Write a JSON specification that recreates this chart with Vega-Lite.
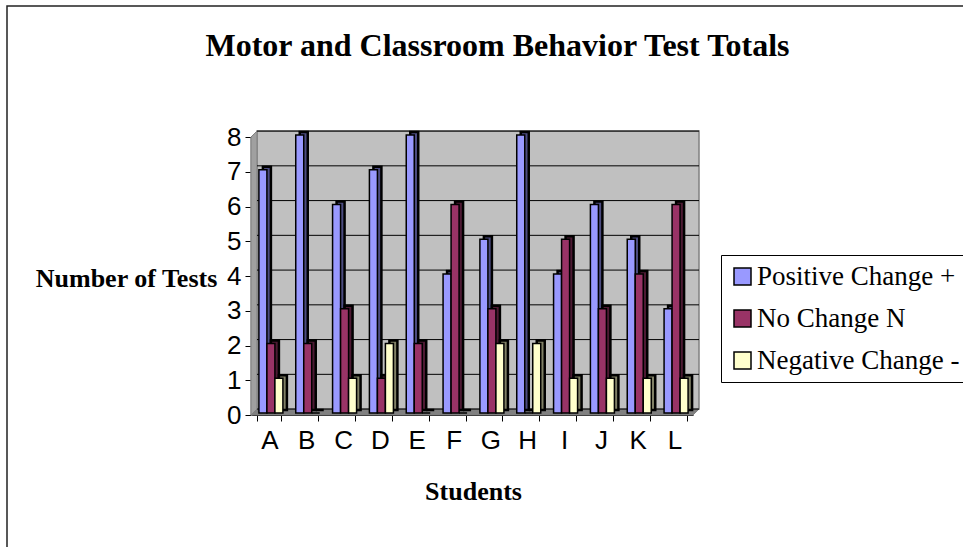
{
"$schema":"https://vega.github.io/schema/vega-lite/v6.json",
"width":957,"height":542,"autosize":"none","padding":{"left":7,"top":6,"right":-1,"bottom":-1},
"background":"white",
"view":{"stroke":"#222222","strokeWidth":1.5,"fill":null},
"title":{"text":"Motor and Classroom Behavior Test Totals","font":"Liberation Serif","fontWeight":"bold","fontSize":32,"color":"black","anchor":"middle","frame":"group","baseline":"alphabetic","dx":12,"dy":86},
"datasets":{
"bars":[
{"student":"A","series":"Positive Change +","tests":7},{"student":"A","series":"No Change N","tests":2},{"student":"A","series":"Negative Change -","tests":1},
{"student":"B","series":"Positive Change +","tests":8},{"student":"B","series":"No Change N","tests":2},{"student":"B","series":"Negative Change -","tests":0},
{"student":"C","series":"Positive Change +","tests":6},{"student":"C","series":"No Change N","tests":3},{"student":"C","series":"Negative Change -","tests":1},
{"student":"D","series":"Positive Change +","tests":7},{"student":"D","series":"No Change N","tests":1},{"student":"D","series":"Negative Change -","tests":2},
{"student":"E","series":"Positive Change +","tests":8},{"student":"E","series":"No Change N","tests":2},{"student":"E","series":"Negative Change -","tests":0},
{"student":"F","series":"Positive Change +","tests":4},{"student":"F","series":"No Change N","tests":6},{"student":"F","series":"Negative Change -","tests":0},
{"student":"G","series":"Positive Change +","tests":5},{"student":"G","series":"No Change N","tests":3},{"student":"G","series":"Negative Change -","tests":2},
{"student":"H","series":"Positive Change +","tests":8},{"student":"H","series":"No Change N","tests":0},{"student":"H","series":"Negative Change -","tests":2},
{"student":"I","series":"Positive Change +","tests":4},{"student":"I","series":"No Change N","tests":5},{"student":"I","series":"Negative Change -","tests":1},
{"student":"J","series":"Positive Change +","tests":6},{"student":"J","series":"No Change N","tests":3},{"student":"J","series":"Negative Change -","tests":1},
{"student":"K","series":"Positive Change +","tests":5},{"student":"K","series":"No Change N","tests":4},{"student":"K","series":"Negative Change -","tests":1},
{"student":"L","series":"Positive Change +","tests":3},{"student":"L","series":"No Change N","tests":6},{"student":"L","series":"Negative Change -","tests":1}
],
"grid":[{"v":0.17},{"v":1.17},{"v":2.17},{"v":3.17},{"v":4.17},{"v":5.17},{"v":6.17},{"v":7.17},{"v":8.17}]
},
"layer":[
{"data":{"values":[{"u0":0.163,"u1":12.163,"v0":0.17,"v1":8.17}]},
 "mark":{"type":"rect","fill":"#C0C0C0","stroke":"#808080","strokeWidth":1.5},
 "encoding":{"x":{"field":"u0","type":"quantitative","axis":null,"scale":{"domain":[0,12],"range":[244,686]}},"x2":{"field":"u1"},
 "y":{"field":"v0","type":"quantitative","title":"Number of Tests","scale":{"domain":[0,8],"range":[409,131]},
  "axis":{"offset":-244,"values":[0,1,2,3,4,5,6,7,8],"format":"d","grid":false,"labelFont":"Liberation Sans","labelFontSize":26,"labelColor":"black","labelPadding":4,"tickColor":"black","tickSize":6,"domainColor":"#808080","domainWidth":2,"titleFont":"Liberation Serif","titleFontWeight":"bold","titleFontSize":26,"titleColor":"black","titleAngle":0,"titleAnchor":"middle","titleX":-125,"titleY":280,"titleAlign":"center","titleBaseline":"alphabetic"}},"y2":{"field":"v1"}}},
{"data":{"values":[{"u":0,"lo":0,"hi":8},{"u":0.163,"lo":0.17,"hi":8.17}]},
 "mark":{"type":"area","fill":"#A0A0A0","stroke":"#808080","strokeWidth":1},
 "encoding":{"x":{"field":"u","type":"quantitative","axis":null,"scale":{"domain":[0,12],"range":[244,686]}},
 "y":{"field":"lo","type":"quantitative","title":"Number of Tests"},"y2":{"field":"hi"}}},
{"data":{"values":[{"v":0,"a":0,"b":12},{"v":0.17,"a":0.163,"b":12.163}]},
 "mark":{"type":"area","orient":"horizontal","fill":"#808080","stroke":"#808080","strokeWidth":1},
 "encoding":{"y":{"field":"v","type":"quantitative","title":"Number of Tests"},
 "x":{"field":"a","type":"quantitative","axis":null,"scale":{"domain":[0,12],"range":[244,686]}},"x2":{"field":"b"}}},
{"data":{"name":"grid"},
 "transform":[{"calculate":"0.163","as":"g0"},{"calculate":"12.163","as":"g1"}],
 "mark":{"type":"rule","color":"black","strokeWidth":1},
 "encoding":{"y":{"field":"v","type":"quantitative","title":"Number of Tests"},
 "x":{"field":"g0","type":"quantitative","axis":null,"scale":{"domain":[0,12],"range":[244,686]}},"x2":{"field":"g1"}}},
{"data":{"name":"bars"},
 "mark":{"type":"bar","stroke":"black","strokeWidth":2.5,"yOffset":-5,"y2Offset":-5},
 "encoding":{
 "x":{"field":"student","type":"nominal","axis":null,"scale":{"domain":["A","B","C","D","E","F","G","H","I","J","K","L"],"range":[248,690],"paddingInner":0.348,"paddingOuter":0.174}},
 "xOffset":{"field":"series","type":"nominal","sort":["Positive Change +","No Change N","Negative Change -"],"scale":{"domain":["Positive Change +","No Change N","Negative Change -"],"range":[1.5,25.5]}},
 "y":{"field":"tests","type":"quantitative","title":"Number of Tests"},
 "color":{"field":"series","type":"nominal","legend":null,"scale":{"domain":["Positive Change +","No Change N","Negative Change -"],"range":["#4C4C80","#4D1A33","#808066"]}}}},
{"data":{"name":"bars"},
 "mark":{"type":"bar","stroke":"black","strokeWidth":1.5,"opacity":1,"yOffset":-2,"y2Offset":-2},
 "encoding":{
 "x":{"field":"student","type":"nominal","title":"Students","scale":{"domain":["A","B","C","D","E","F","G","H","I","J","K","L"],"range":[244,686],"paddingInner":0.348,"paddingOuter":0.174},
  "axis":{"offset":-133,"labelAngle":0,"labelFont":"Liberation Sans","labelFontSize":26,"labelColor":"black","labelPadding":6,"tickBand":"extent","tickColor":"black","tickSize":6,"domainColor":"black","titleFont":"Liberation Serif","titleFontWeight":"bold","titleFontSize":26,"titleColor":"black","titleX":466,"titleY":84,"titleBaseline":"alphabetic"}},
 "xOffset":{"field":"series","type":"nominal","sort":["Positive Change +","No Change N","Negative Change -"],"scale":{"domain":["Positive Change +","No Change N","Negative Change -"],"range":[1.5,25.5]}},
 "y":{"field":"tests","type":"quantitative","title":"Number of Tests"},
 "color":{"field":"series","type":"nominal","title":null,"scale":{"domain":["Positive Change +","No Change N","Negative Change -"],"range":["#9999FF","#993366","#FFFFCC"]},
  "legend":{"orient":"none","legendX":714,"legendY":249,"strokeColor":"black","fillColor":"white","padding":8,"symbolType":"square","symbolSize":289,"symbolStrokeColor":"black","symbolStrokeWidth":1.5,"symbolOpacity":1,"labelFont":"Liberation Serif","labelFontSize":27,"labelColor":"black","labelLimit":300,"labelOffset":1,"rowPadding":14}}}}
],
"resolve":{"scale":{"x":"independent","color":"independent","xOffset":"independent"},"axis":{"x":"independent"}}
}
